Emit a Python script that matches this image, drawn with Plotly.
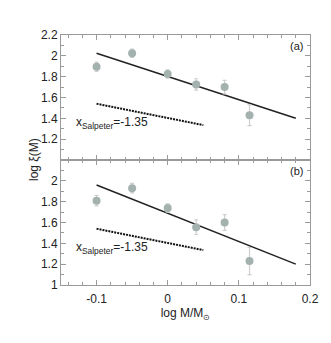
import plotly.graph_objects as go
from plotly.subplots import make_subplots

# data
log_m = [-0.1, -0.05, 0.0, 0.04, 0.08, 0.115]
xi_a = [1.895, 2.025, 1.826, 1.725, 1.70, 1.43]
err_a = [0.045, 0.04, 0.04, 0.055, 0.065, 0.10]
xi_b = [1.81, 1.93, 1.74, 1.555, 1.60, 1.23]
err_b = [0.05, 0.045, 0.04, 0.07, 0.075, 0.13]

fit_x = [-0.1, 0.18]
fit_a = [2.025, 1.40]
fit_b = [1.96, 1.20]

salp_x = [-0.1, 0.05]
salp_y = [1.54, 1.335]

panel_tag = ["(a)", "(b)"]

font = "Liberation Sans, Arial, sans-serif"
marker_col = "#a3b2af"
axis_col = "#9a9a9a"

fig = make_subplots(rows=2, cols=1, shared_xaxes=True, vertical_spacing=0)

for row, (yv, ev, fy) in enumerate([(xi_a, err_a, fit_a), (xi_b, err_b, fit_b)], start=1):
    fig.add_trace(go.Scatter(x=fit_x, y=fy, mode="lines",
                             line=dict(color="#222", width=1.5)), row=row, col=1)
    fig.add_trace(go.Scatter(x=salp_x, y=salp_y, mode="lines",
                             line=dict(color="#111", width=2, dash="2px,1px")), row=row, col=1)
    fig.add_trace(go.Scatter(x=log_m, y=yv, mode="markers",
                             marker=dict(color=marker_col, size=8),
                             error_y=dict(array=ev, color="#cfcfcf", thickness=1.2, width=2)),
                  row=row, col=1)

ax_common = dict(showline=True, linecolor=axis_col, linewidth=1, mirror="allticks",
                 ticks="inside", ticklen=5, tickcolor=axis_col, showgrid=False,
                 zeroline=False, tickfont=dict(size=12, color="#222", family=font))

fig.update_xaxes(range=[-0.15, 0.2], tickvals=[-0.1, 0, 0.1, 0.2],
                 ticktext=["-0.1", "0", "0.1", "0.2"], ticklabelstandoff=3,
                 minor=dict(dtick=0.02, tick0=0, ticks="inside", ticklen=3, tickcolor=axis_col),
                 **ax_common)
fig.update_xaxes(title=dict(text="log M/M<sub>\u2299</sub>", standoff=2,
                            font=dict(size=12, color="#222", family=font)), row=2, col=1)

fig.update_yaxes(range=[1.0, 2.2], tickvals=[1.2, 1.4, 1.6, 1.8, 2, 2.2],
                 ticktext=["1.2", "1.4", "1.6", "1.8", "2", "2.2"],
                 minor=dict(dtick=0.1, tick0=0, ticks="inside", ticklen=3, tickcolor=axis_col),
                 row=1, col=1, **ax_common)
fig.update_yaxes(range=[1.0, 2.2], tickvals=[1, 1.2, 1.4, 1.6, 1.8, 2],
                 ticktext=["1", "1.2", "1.4", "1.6", "1.8", "2"],
                 minor=dict(dtick=0.1, tick0=0, ticks="inside", ticklen=3, tickcolor=axis_col),
                 row=2, col=1, **ax_common)

for i, tag in enumerate(panel_tag):
    yref = "y domain" if i == 0 else "y2 domain"
    xref = "x domain" if i == 0 else "x2 domain"
    fig.add_annotation(x=0.98, y=0.98, xref=xref, yref=yref, text=tag, showarrow=False,
                       xanchor="right", yanchor="top",
                       font=dict(size=11, color="#222", family=font))
    fig.add_annotation(x=-0.132, y=1.36, xref=xref.replace(" domain", ""),
                       yref=yref.replace(" domain", ""),
                       text="x<sub>Salpeter</sub>=-1.35", showarrow=False, xanchor="left",
                       font=dict(size=12, color="#222", family=font))

fig.add_annotation(x=0.0, y=0.5, xref="paper", yref="paper", xshift=-36,
                   text="log \u03be(M)", textangle=-90, showarrow=False,
                   font=dict(size=12, color="#222", family=font))

# the page adds an 8px body margin, so the figure is 8px smaller than the window
fig.update_layout(width=323, height=335, showlegend=False,
                  margin=dict(l=53, r=17, t=27, b=58),
                  plot_bgcolor="white", paper_bgcolor="white")

fig.write_html("out.html")
